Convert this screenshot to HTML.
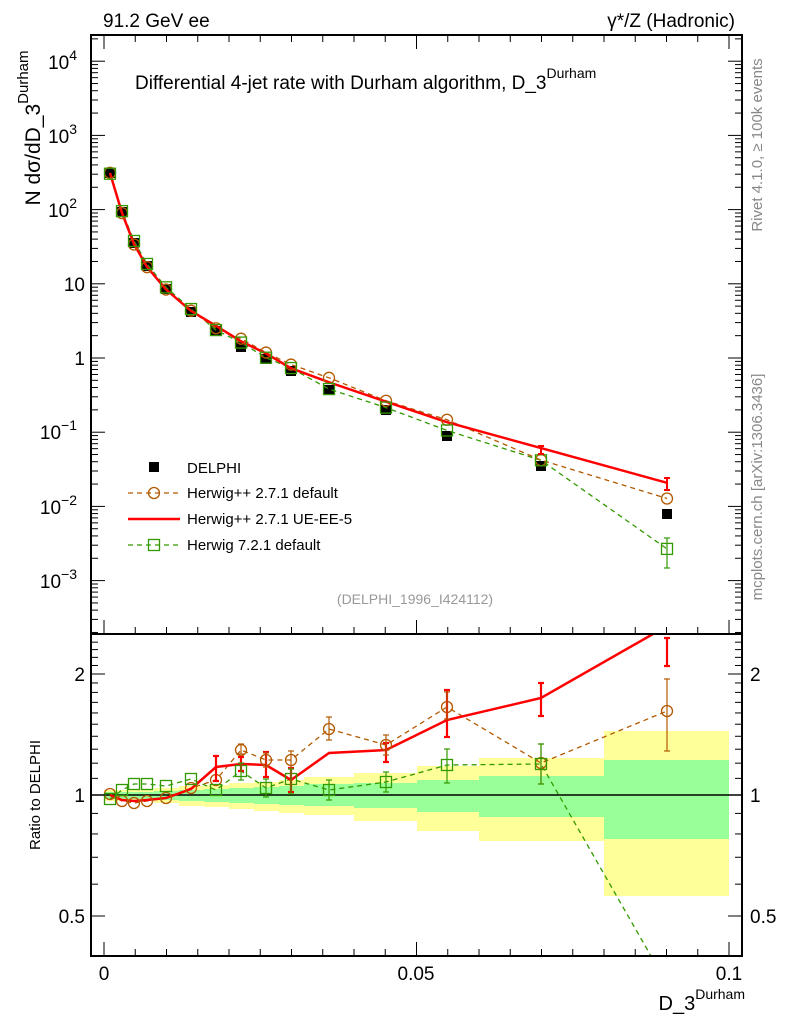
<!DOCTYPE html>
<html><head><meta charset="utf-8"><style>
body{margin:0;background:#fff;}
svg text{font-family:"Liberation Sans",sans-serif;}
</style></head><body>
<svg id="s" width="786" height="1024" xmlns="http://www.w3.org/2000/svg"></svg>
<script>
const S=document.getElementById('s');
let h='';
const X=v=>104+v*6250;
const YM=v=>358-74.2*Math.log10(v);
const YR=r=>795-121*Math.log2(r);
// bands in pixels: [x1,x2,yt,yb,gt,gb]
const bands=[[104,154,790,801,792,799],[154,179,788,803,791,800],[179,204,786,806,790,801],[204,229,785,807,789,802],[229,254,783,809,788,803],[254,279,782,811,787,804],[279,304,780,813,786,805],[304,354,777,815,784,806],[354,417,773,821,783,808],[417,479,766,831,780,812],[479,604,758,841,776,817],[604,729,731,896,760,839]];
bands.forEach(b=>{h+=`<rect x="${b[0]}" y="${b[2]}" width="${b[1]-b[0]}" height="${b[3]-b[2]}" fill="#ffff99"/><rect x="${b[0]}" y="${b[4]}" width="${b[1]-b[0]}" height="${b[5]-b[4]}" fill="#99ff99"/>`;});
h+=`<line x1="91" y1="795" x2="742" y2="795" stroke="#000" stroke-width="1.5"/>`;
const px=[110,122,134,147,166,191,216,241,266,291,329,386,447,541,667];
const dy=[173,212,243,266,289,312,331,347,359,371,390,410,436,466,514];
const rb=[794,801,803,801,798,788,780,750,760,760,729,745,707,763,711];
const rr=[795,800,801,800,798,789,767,764,765,780,753,750,720,698,626];
const rg=[799,790,784,784,786,779,790,771,788,779,790,782,765,764,984];
const m=r=>dy.map((d,i)=>d+(r[i]-795)*74.2*Math.log10(2)/121);
const mb=m(rb),mr=m(rr),mg=m(rg);
const poly=(ys,col,w,dash,clip)=>`<polyline points="${px.map((x,i)=>x+','+ys[i]).join(' ')}" fill="none" stroke="${col}" stroke-width="${w}" ${dash?'stroke-dasharray="5,4"':''} ${clip?'clip-path="url(#'+clip+')"':''}/>`;
h+=`<defs><clipPath id="cm"><rect x="91" y="35" width="651" height="599"/></clipPath><clipPath id="cr"><rect x="91" y="634" width="651" height="322"/></clipPath></defs>`;
const circ=(x,y,c)=>`<circle cx="${x}" cy="${y}" r="5.5" fill="none" stroke="${c}" stroke-width="1.3"/>`;
const sq=(x,y,c)=>`<rect x="${x-5.5}" y="${y-5.5}" width="11" height="11" fill="none" stroke="${c}" stroke-width="1.3"/>`;
const err=(x,y1,y2,c,w)=>`<line x1="${x}" y1="${y1}" x2="${x}" y2="${y2}" stroke="${c}" stroke-width="${w}"/><line x1="${x-3}" y1="${y1}" x2="${x+3}" y2="${y1}" stroke="${c}" stroke-width="${w}"/><line x1="${x-3}" y1="${y2}" x2="${x+3}" y2="${y2}" stroke="${c}" stroke-width="${w}"/>`;
const B='#b35900',G='#339900';
dy.forEach((d,i)=>{h+=`<rect x="${px[i]-5}" y="${d-5}" width="10" height="10" fill="#000"/>`;});
h+=poly(mg,G,1.3,1,'cm')+poly(mb,B,1.3,1,'cm')+poly(mr,'#f00',2.5,0,'cm');
px.forEach((x,i)=>{h+=circ(x,mb[i],B)+sq(x,mg[i],G);});
h+=err(667,490,478,'#f00',2)+err(541,454,446,'#f00',2)+err(667,538,568,G,1.2);
h+=poly(rg,G,1.3,1,'cr')+poly(rb,B,1.3,1,'cr')+poly(rr,'#f00',2.5,0,'cr');
px.forEach((x,i)=>{h+=circ(x,rb[i],B);if(i<14)h+=sq(x,rg[i],G);});
[[216,756,781],[241,757,771],[266,752,777],[291,768,792],[386,743,762],[447,690,737],[541,683,716],[667,638,666]].forEach(e=>h+=err(e[0],e[1],e[2],'#f00',2.2));
[[241,744,754],[266,753,767],[291,751,769],[329,717,740],[386,735,755],[447,692,719],[541,744,784],[667,679,751]].forEach(e=>h+=err(e[0],e[1],e[2],B,1.2));
[[241,763,780],[266,779,797],[291,769,794],[329,780,800],[386,772,792],[447,749,783],[541,744,784]].forEach(e=>h+=err(e[0],e[1],e[2],G,1.2));
h+=`<rect x="91" y="35" width="651" height="921" fill="none" stroke="#000" stroke-width="2"/><line x1="91" y1="634" x2="742" y2="634" stroke="#000" stroke-width="2"/>`;
for(let e=-4;e<=5;e++)for(let k=1;k<10;k++){const y=YM(k*Math.pow(10,e));if(y<36||y>633)continue;const L=k==1?14:7;h+=`<line x1="91" y1="${y}" x2="${91+L}" y2="${y}" stroke="#000"/><line x1="742" y1="${y}" x2="${742-L}" y2="${y}" stroke="#000"/>`;}
const ml=[[62,'10<tspan dy="-9" font-size="14">4</tspan>'],[136,'10<tspan dy="-9" font-size="14">3</tspan>'],[210,'10<tspan dy="-9" font-size="14">2</tspan>'],[284,'10'],[358,'1'],[432,'10<tspan dy="-9" font-size="14">−1</tspan>'],[507,'10<tspan dy="-9" font-size="14">−2</tspan>'],[581,'10<tspan dy="-9" font-size="14">−3</tspan>']];
ml.forEach(([y,t])=>{const off=t.includes('tspan')?-8:0;h+=`<text x="${85+off}" y="${y+7}" font-size="19" text-anchor="end">${t}</text>`;});
[0.4,0.5,0.6,0.7,0.8,0.9,1,1.1,1.2,1.3,1.4,1.5,1.6,1.7,1.8,1.9,2,2.1,2.2,2.3,2.4,2.5].forEach(r=>{const y=YR(r);if(y<636||y>954)return;const L=(r==0.5||r==1||r==2)?14:7;h+=`<line x1="91" y1="${y}" x2="${91+L}" y2="${y}" stroke="#000"/><line x1="742" y1="${y}" x2="${742-L}" y2="${y}" stroke="#000"/>`;});
[[674,'2'],[795,'1'],[916,'0.5']].forEach(([y,t])=>{h+=`<text x="85" y="${y+7}" font-size="19" text-anchor="end">${t}</text><text x="750" y="${y+7}" font-size="19">${t}</text>`;});
for(let i=0;i<=20;i++){const x=X(i*0.005);const L=i%10==0?14:7;h+=`<line x1="${x}" y1="956" x2="${x}" y2="${956-L}" stroke="#000"/><line x1="${x}" y1="634" x2="${x}" y2="${634-L}" stroke="#000"/><line x1="${x}" y1="35" x2="${x}" y2="${35+L}" stroke="#000"/>`;}
[[104,'0'],[416,'0.05'],[729,'0.1']].forEach(([x,t])=>h+=`<text x="${x}" y="980" font-size="19" text-anchor="middle">${t}</text>`);
h+=`<text x="103" y="27" font-size="19">91.2 GeV ee</text><text x="735" y="27" font-size="19" text-anchor="end">γ*/Z (Hadronic)</text>`;
h+=`<text x="135" y="89" font-size="19">Differential 4-jet rate with Durham algorithm, D_3<tspan dy="-11" font-size="14">Durham</tspan></text>`;
h+=`<text transform="translate(40,128) rotate(-90)" font-size="21" text-anchor="middle">N  dσ/dD_3<tspan dy="-12" font-size="15">Durham</tspan></text>`;
h+=`<text transform="translate(40,795) rotate(-90)" font-size="15" text-anchor="middle">Ratio to DELPHI</text>`;
h+=`<text x="745" y="1010" font-size="20" text-anchor="end">D_3<tspan dy="-11" font-size="14">Durham</tspan></text>`;
h+=`<text transform="translate(762,145) rotate(-90)" font-size="15" fill="#888" text-anchor="middle">Rivet 4.1.0, ≥ 100k events</text>`;
h+=`<text transform="translate(762,487) rotate(-90)" font-size="15" fill="#888" text-anchor="middle">mcplots.cern.ch [arXiv:1306.3436]</text>`;
h+=`<text x="415" y="604" font-size="14" fill="#999" text-anchor="middle">(DELPHI_1996_I424112)</text>`;
h+=`<rect x="149" y="462" width="10" height="10" fill="#000"/><text x="187" y="473" font-size="15">DELPHI</text>`;
h+=`<line x1="128" y1="493" x2="180" y2="493" stroke="${B}" stroke-width="1.3" stroke-dasharray="5,4"/>${circ(154,493,B)}<text x="187" y="498" font-size="15">Herwig++ 2.7.1 default</text>`;
h+=`<line x1="128" y1="519" x2="180" y2="519" stroke="#f00" stroke-width="2.5"/><text x="187" y="524" font-size="15">Herwig++ 2.7.1 UE-EE-5</text>`;
h+=`<line x1="128" y1="545" x2="180" y2="545" stroke="${G}" stroke-width="1.3" stroke-dasharray="5,4"/>${sq(154,545,G)}<text x="187" y="550" font-size="15">Herwig 7.2.1 default</text>`;
S.innerHTML=h;
</script>
</body></html>
